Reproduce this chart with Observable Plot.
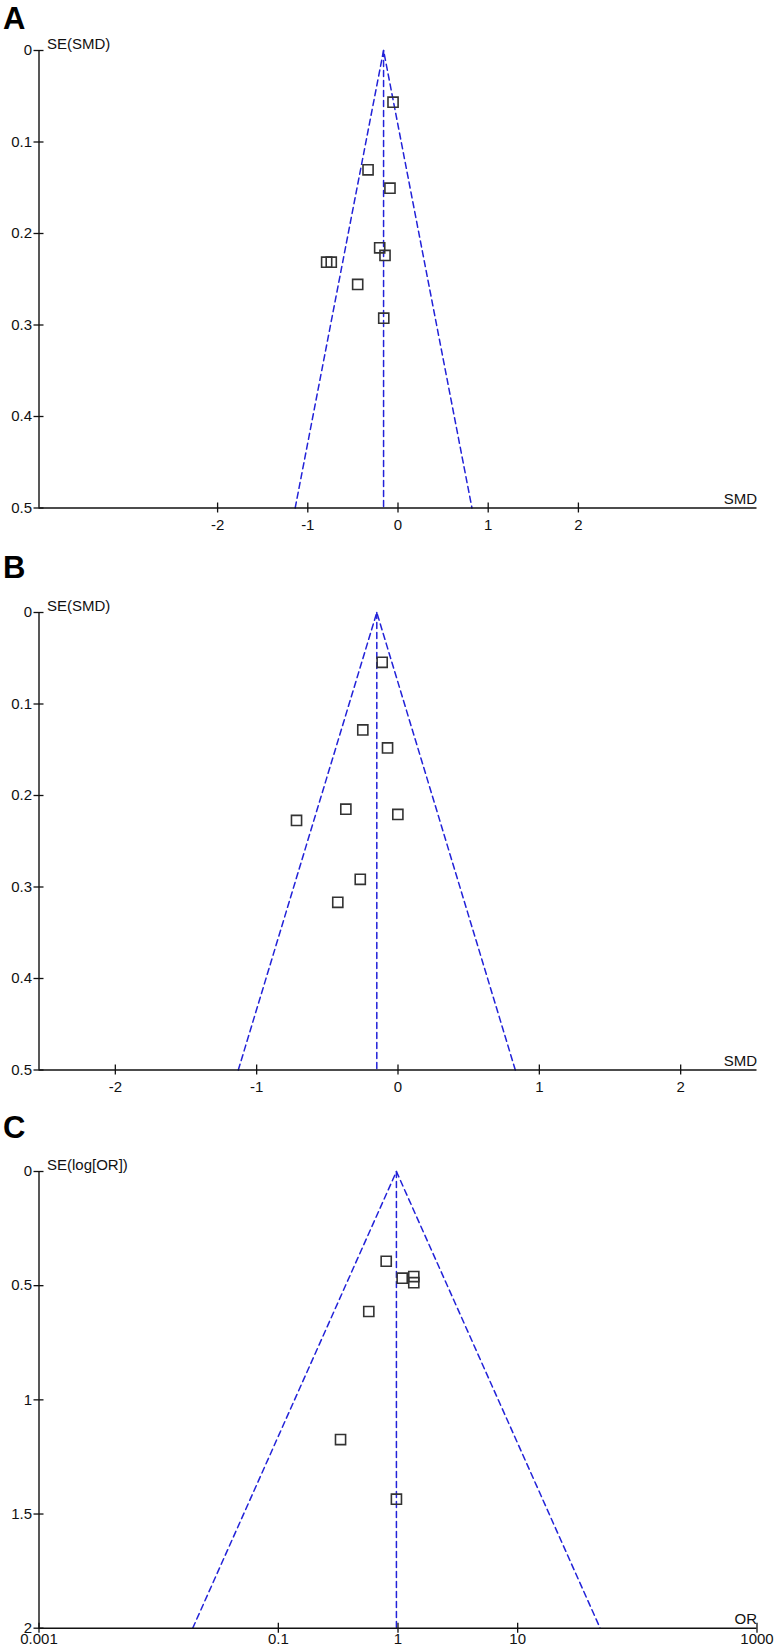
<!DOCTYPE html>
<html><head><meta charset="utf-8">
<script src="https://cdn.jsdelivr.net/npm/d3@7"></script>
<script src="https://cdn.jsdelivr.net/npm/@observablehq/plot@0.6"></script>
<style>
body{margin:0;background:#fff;}
#wrap{position:relative;width:774px;height:1651px;overflow:hidden;background:#fff;}
.panel{position:absolute;left:0;}
</style></head><body><div id="wrap"></div>
<script>
// ---- Panel A data (SMD vs SE(SMD)) ----
const smdA = [-0.055, -0.332, -0.089, -0.203, -0.144, -0.791, -0.740, -0.447, -0.158];
const seA  = [0.0565, 0.1304, 0.1505, 0.2157, 0.2240, 0.2313, 0.2313, 0.2557, 0.2925];
const pooledA = -0.16;

// ---- Panel B data ----
const smdB = [-0.112, -0.249, -0.074, -0.369, -0.001, -0.718, -0.267, -0.426];
const seB  = [0.0545, 0.1283, 0.1480, 0.2149, 0.2207, 0.2272, 0.2916, 0.3168];
const pooledB = -0.15;

// ---- Panel C data (OR vs SE(log[OR])) ----
const orC  = [0.797, 1.084, 1.355, 1.355, 0.570, 0.331, 0.970];
const seC  = [0.393, 0.467, 0.460, 0.487, 0.613, 1.174, 1.435];
const pooledC = 0.97;

// ---- Tick labels ----
const xTicksA = [-2, -1, 0, 1, 2];
const xTicksB = [-2, -1, 0, 1, 2];
const xTicksC = [0.001, 0.1, 1, 10, 1000];
const yTicksAB = [0, 0.1, 0.2, 0.3, 0.4, 0.5];
const yTicksC = [0, 0.5, 1, 1.5, 2];

const FONT = "'Liberation Sans', Arial, Helvetica, sans-serif";
const BLUE = "#2222d8";

function panel(cfg) {
  const {top, height, marginBottom, xType, xDomain, yMax, xTicks, yTicks, xPad,
         xs, ses, pooled, letter, letterDy, yLabel, xLabel} = cfg;
  const pts = xs.map((x, i) => ({x, se: ses[i]}));
  const isLog = xType === "log";
  const lo = isLog ? pooled * Math.exp(-1.96 * yMax) : pooled - 1.96 * yMax;
  const hi = isLog ? pooled * Math.exp(1.96 * yMax) : pooled + 1.96 * yMax;
  const funnel = [{x: lo, se: yMax}, {x: pooled, se: 0}, {x: hi, se: yMax}];
  const center = [{x: pooled, se: 0}, {x: pooled, se: yMax}];
  const xmin = xDomain[0];
  const chart = Plot.plot({
    width: 774, height, marginTop: 50, marginLeft: 38.5, marginRight: 17.5, marginBottom,
    x: {type: xType, domain: xDomain, axis: null},
    y: {domain: [0, yMax], reverse: true, axis: null},
    style: {fontFamily: FONT, background: "white", overflow: "visible"},
    marks: [
      Plot.line(funnel, {x: "x", y: "se", stroke: BLUE, strokeWidth: 1.5, strokeDasharray: "6,4"}),
      Plot.line(center, {x: "x", y: "se", stroke: BLUE, strokeWidth: 1.5, strokeDasharray: "6,4"}),
      Plot.ruleX([xmin], {stroke: "#111", strokeWidth: 1.4}),
      Plot.ruleY([yMax], {stroke: "#111", strokeWidth: 1.4}),
      Plot.ruleX(xTicks, {x: d => d, y1: () => yMax, y2: () => yMax, insetTop: -5, insetBottom: -5, stroke: "#111", strokeWidth: 1.3}),
      Plot.ruleY(yTicks, {y: d => d, x1: () => xmin, x2: () => xmin, insetLeft: -5, insetRight: -5, stroke: "#111", strokeWidth: 1.3}),
      Plot.axisX(xTicks, {tickSize: 0, tickPadding: xPad, tickFormat: d => String(d), fontSize: 15, label: null, fill: "#111"}),
      Plot.axisY(yTicks, {tickSize: 0, tickPadding: 7, tickFormat: d => String(d), fontSize: 15, label: null, fill: "#111"}),
      Plot.dot(pts, {x: "x", y: "se", symbol: "square", r: 5.7, stroke: "#333", strokeWidth: 1.6, fill: "none"}),
      Plot.text([yLabel], {text: d => d, frameAnchor: "top-left", textAnchor: "start", lineAnchor: "bottom", dx: 8, dy: -2, fontSize: 15, fill: "#111"}),
      Plot.text([xLabel], {text: d => d, frameAnchor: "bottom-right", textAnchor: "end", lineAnchor: "bottom", dy: -4, fontSize: 15, fill: "#111"}),
      Plot.text([letter], {text: d => d, frameAnchor: "top-left", textAnchor: "start", lineAnchor: "bottom", dx: -36, dy: -letterDy, fontSize: 31, fontWeight: "bold", fill: "#000"})
    ]
  });
  const div = document.createElement("div");
  div.className = "panel";
  div.style.top = top + "px";
  div.appendChild(chart);
  document.getElementById("wrap").appendChild(div);
}

panel({top: 0, height: 540, marginBottom: 32.5, xType: "linear", xDomain: [-3.98, 3.98], yMax: 0.5,
  xTicks: xTicksA, yTicks: yTicksAB, xPad: 11, xs: smdA, ses: seA, pooled: pooledA,
  letter: "A", letterDy: 22, yLabel: "SE(SMD)", xLabel: "SMD"});
panel({top: 561.7, height: 540, marginBottom: 32.5, xType: "linear", xDomain: [-2.54, 2.54], yMax: 0.5,
  xTicks: xTicksB, yTicks: yTicksAB, xPad: 11, xs: smdB, ses: seB, pooled: pooledB,
  letter: "B", letterDy: 34.5, yLabel: "SE(SMD)", xLabel: "SMD"});
panel({top: 1121, height: 530, marginBottom: 23.3, xType: "log", xDomain: [0.001, 1000], yMax: 2,
  xTicks: xTicksC, yTicks: yTicksC, xPad: 5, xs: orC, ses: seC, pooled: pooledC,
  letter: "C", letterDy: 34, yLabel: "SE(log[OR])", xLabel: "OR"});
</script></body></html>
